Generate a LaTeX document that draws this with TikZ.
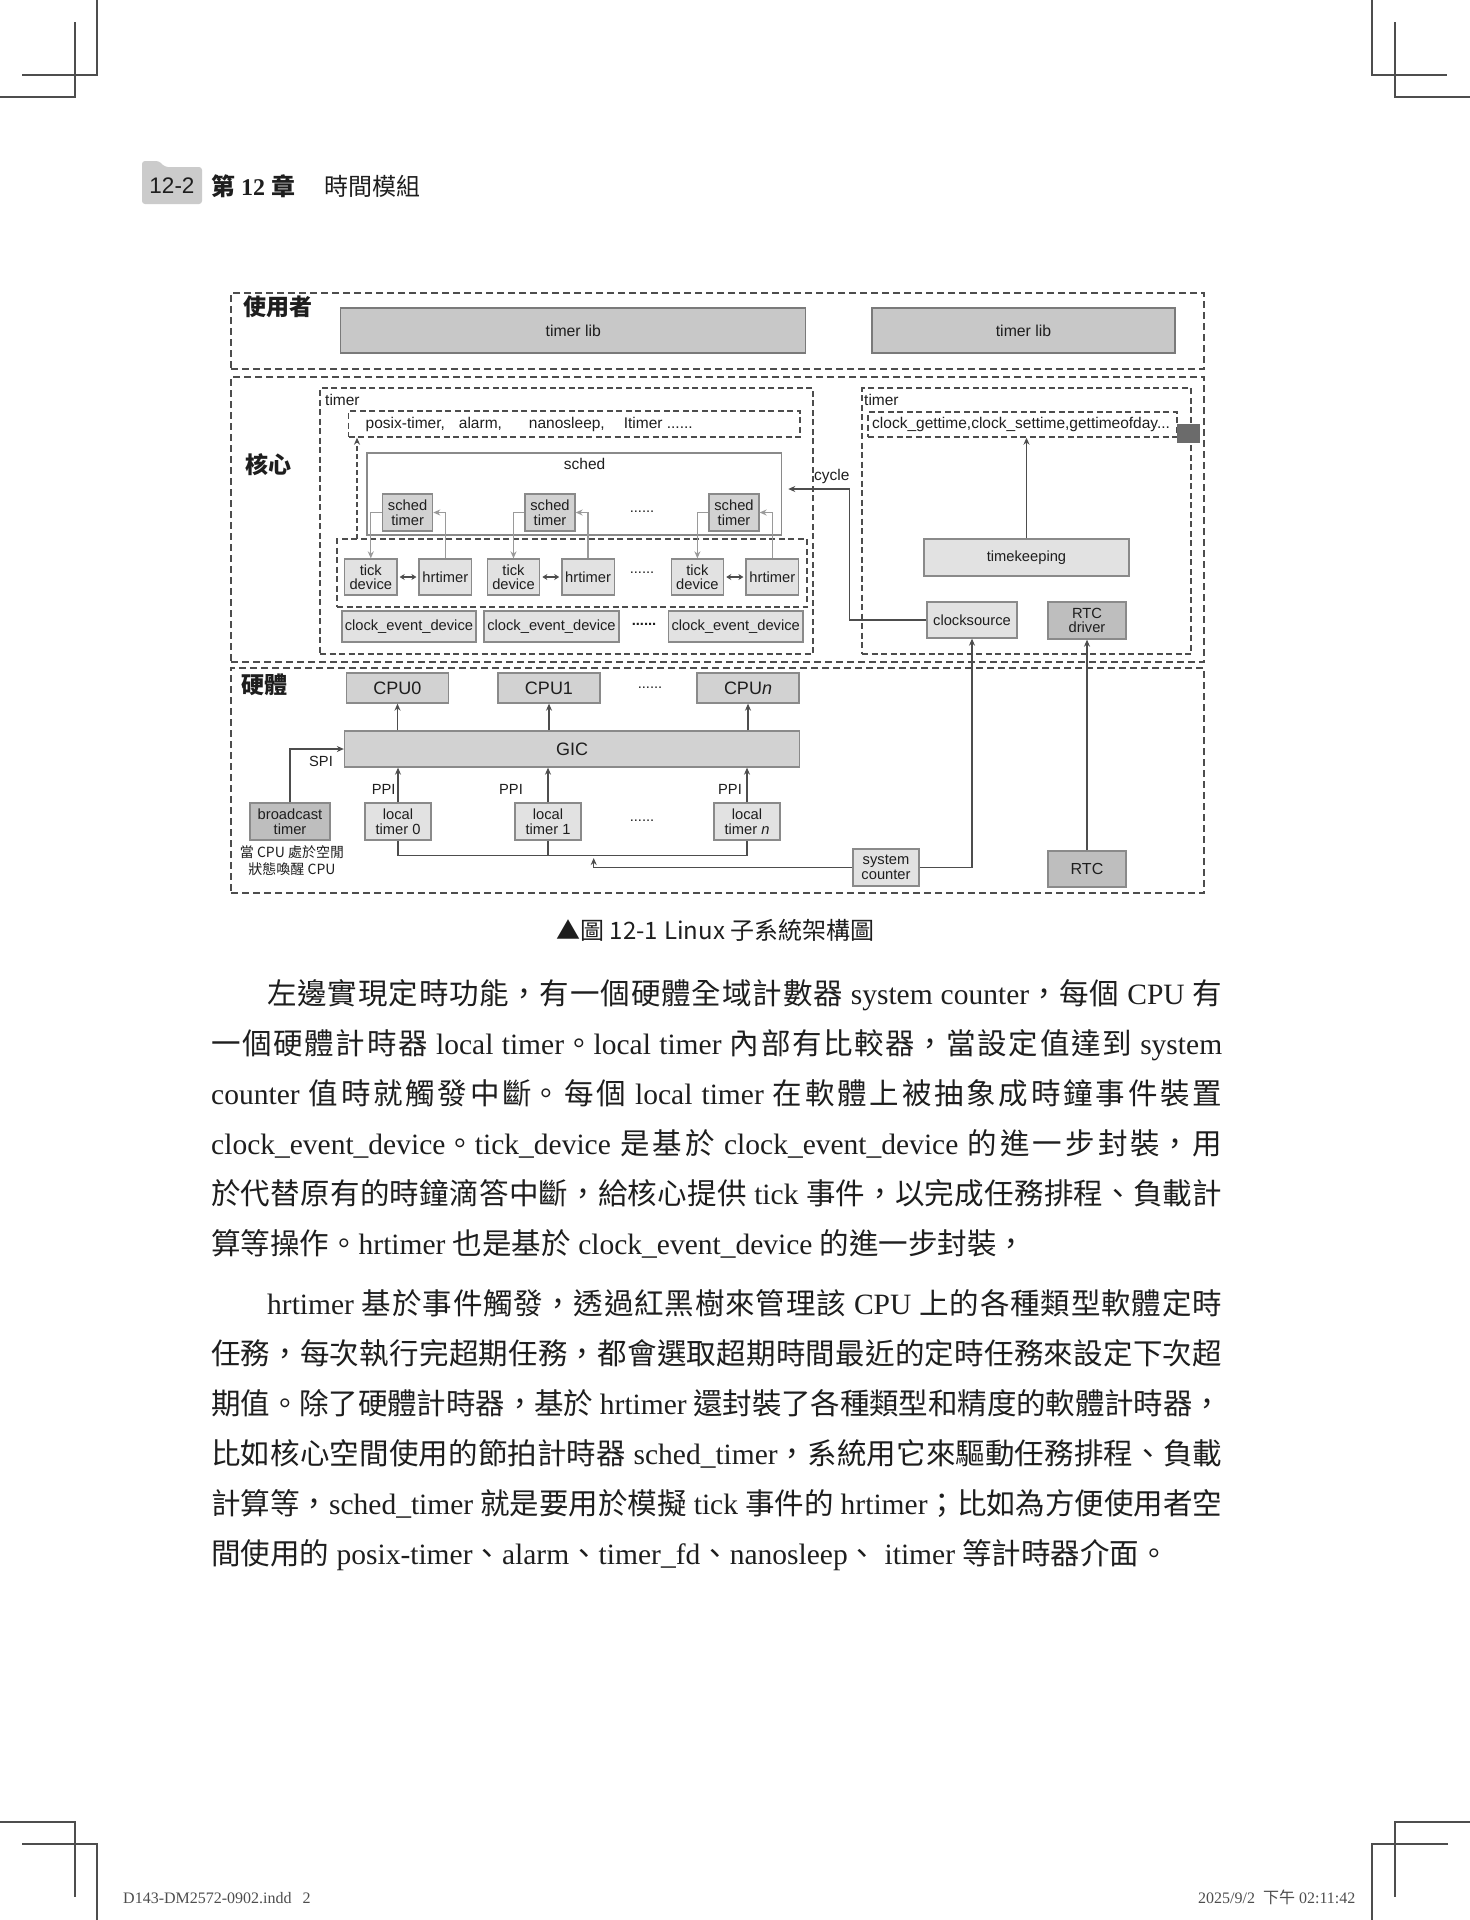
\documentclass[tikz,border=0pt]{standalone}
\usepackage{fontspec}
\usepackage{xcolor}
\usepackage{tikz}
\usetikzlibrary{arrows.meta}
\setmainfont{Liberation Serif}
\newfontfamily\cjk{Noto Sans CJK TC}
\newfontfamily\arial{Liberation Sans}
\XeTeXlinebreaklocale "zh"
\XeTeXlinebreakskip=0pt plus 6pt minus 0.4pt
\definecolor{TMLine}{HTML}{4D4D4D}
\definecolor{TMEdge}{HTML}{8A8A8A}
\definecolor{TMEdgeDark}{HTML}{7A7A7A}
\definecolor{TMLib}{HTML}{C8C8C8}
\definecolor{TMMid}{HTML}{D2D2D2}
\definecolor{TMSoft}{HTML}{E2E2E2}
\definecolor{TMDark}{HTML}{BEBEBE}
\definecolor{TMBlock}{HTML}{6B6B6B}
\definecolor{TMArrow}{HTML}{9A9A9A}
\definecolor{TMText}{HTML}{1E1E1E}
\definecolor{TMTab}{HTML}{CBCBCB}
\tikzset{
  layerbox/.style={draw=TMLine,line width=1.8pt,dash pattern=on 7pt off 4pt,inner sep=0pt},
  dashgrp/.style={draw=TMLine,line width=1.4pt,dash pattern=on 6pt off 3.5pt,inner sep=0pt},
  cell/.style={draw=TMEdge,line width=1.3pt,inner sep=0pt,align=center,text=TMText,font=\arial\fontsize{14.7}{14.5}\selectfont},
  txt/.style={inner sep=0pt,text=TMText,font=\arial\fontsize{14.7}{14.5}\selectfont},
  txtl/.style={inner sep=0pt,text=TMText,font=\arial\fontsize{15.5}{15.5}\selectfont},
  layername/.style={inner sep=0pt,text=TMText,font=\cjk\bfseries\fontsize{23}{23}\selectfont},
  wire/.style={draw=TMLine,line width=1.3pt},
  feed/.style={draw=TMLine,line width=1.3pt,-{Stealth[length=7pt,width=6pt]}},
  soft/.style={draw=TMArrow,line width=1.3pt,-{Stealth[length=7pt,width=6pt]}},
  pairarrow/.style={draw=TMLine,line width=1.6pt,{Stealth[length=5pt,width=6pt]}-{Stealth[length=5pt,width=6pt]},shorten <=2pt,shorten >=2pt},
  crop/.style={draw=TMLine,line width=1.2pt},
  bodyline/.style={anchor=base west,inner sep=0pt,text=TMText,font=\fontsize{29.5}{50}\selectfont},
  footline/.style={anchor=base west,inner sep=0pt,text=TMLine,font=\fontsize{16}{16}\selectfont}
}
\newcommand\fullline[2]{\parbox[t]{#1}{\parfillskip=0pt\relax\noindent #2}}
\begin{document}
\begin{tikzpicture}[x=1pt,y=-1pt]
\useasboundingbox (0,0) rectangle (1470,1920);
\fill[white] (0,0) rectangle (1470,1920);
\draw[crop] (97,0) -- (97,75) -- (22,75);
\draw[crop] (75,22) -- (75,97) -- (0,97);
\draw[crop] (1372,0) -- (1372,75) -- (1447,75);
\draw[crop] (1395,22) -- (1395,97) -- (1470,97);
\draw[crop] (0,1822) -- (75,1822) -- (75,1897);
\draw[crop] (22,1844) -- (97,1844) -- (97,1920);
\draw[crop] (1470,1822) -- (1395,1822) -- (1395,1897);
\draw[crop] (1448,1844) -- (1372,1844) -- (1372,1920);
\fill[TMTab,rounded corners=3pt] (142,204) -- (142,161) -- (159,161) -- (165,167) -- (202,167) -- (202,204) -- cycle;
\node[inner sep=0pt,text=TMText,font=\arial\fontsize{22.5}{22.5}\selectfont] (pagenum) at (172,186) {12-2};
\node[anchor=base west,inner sep=0pt,text=TMText,font=\fontsize{24}{24}\selectfont] (chapter) at (211,195) {{\cjk\bfseries 第} \textbf{12} {\cjk\bfseries 章}};
\node[anchor=base west,inner sep=0pt,text=TMText,font=\cjk\fontsize{24}{24}\selectfont] (chaptitle) at (324,195) {時間模組};
\node[layerbox,minimum width=973pt,minimum height=76pt] (userlayer) at (717.5,331) {};
\node[layerbox,minimum width=973pt,minimum height=285pt] (kernlayer) at (717.5,519.5) {};
\node[layerbox,minimum width=973pt,minimum height=225pt] (hwlayer) at (717.5,780.5) {};
\node[layername] (userlbl) at (278,307) {使用者};
\node[layername] (kernlbl) at (268,465) {核心};
\node[layername] (hwlbl) at (264,685) {硬體};
\node[cell,fill=TMLib,draw=TMEdgeDark,minimum width=465pt,minimum height=45pt,font=\arial\fontsize{15.8}{16}\selectfont] (lib1) at (573.3,330.5) {timer lib};
\node[cell,fill=TMLib,draw=TMEdgeDark,minimum width=303pt,minimum height=45pt,font=\arial\fontsize{15.8}{16}\selectfont] (lib2) at (1023.5,330.5) {timer lib};
\node[dashgrp,minimum width=493pt,minimum height=266pt] (ktimer) at (566.5,521) {};
\node[dashgrp,minimum width=329pt,minimum height=266pt] (ctimer) at (1026.5,521) {};
\node[txtl,anchor=west] (ktimerlbl) at (325,400) {timer};
\node[txtl,anchor=west] (ctimerlbl) at (864,400) {timer};
\node[dashgrp,minimum width=451.5pt,minimum height=26pt] (posix) at (574.25,424) {};
\node[txtl,anchor=west] (posixlbl) at (365.5,424) {posix-timer,\hspace{14pt}alarm,\hspace{27pt}nanosleep,\hspace{19pt}Itimer ......};
\node[dashgrp,minimum width=309pt,minimum height=25pt] (clockapi) at (1022.5,424.5) {};
\node[txtl,anchor=west] (clockapilbl) at (872,424.5) {clock\_gettime,clock\_settime,gettimeofday...};
\node[fill=TMBlock,inner sep=0pt,minimum width=23pt,minimum height=19pt] (corner) at (1188.5,433.5) {};
\node[draw=TMEdge,line width=1.5pt,inner sep=0pt,minimum width=414.5pt,minimum height=82pt] (sched) at (574.25,494) {};
\node[txtl] (schedlbl) at (584.6,464) {sched};
\node[dashgrp,minimum width=470pt,minimum height=68pt] (tickgrp) at (572,573) {};
\node[cell,fill=TMMid,minimum width=50pt,minimum height=37pt] (st1) at (407.6,512.5) {sched\\timer};
\node[cell,fill=TMMid,minimum width=50pt,minimum height=37pt] (st2) at (550,512.5) {sched\\timer};
\node[cell,fill=TMMid,minimum width=50pt,minimum height=37pt] (st3) at (734,512.5) {sched\\timer};
\node[txt] (stdots) at (642,512) {......};
\node[cell,fill=TMSoft,minimum width=52.4pt,minimum height=36pt] (td1) at (370.8,577) {tick\\device};
\node[cell,fill=TMSoft,minimum width=52.5pt,minimum height=36pt] (hr1) at (445.3,577) {hrtimer};
\node[cell,fill=TMSoft,minimum width=52.4pt,minimum height=36pt] (td2) at (513.5,577) {tick\\device};
\node[cell,fill=TMSoft,minimum width=52.5pt,minimum height=36pt] (hr2) at (588.1,577) {hrtimer};
\node[cell,fill=TMSoft,minimum width=52.4pt,minimum height=36pt] (td3) at (697.4,577) {tick\\device};
\node[cell,fill=TMSoft,minimum width=52.5pt,minimum height=36pt] (hr3) at (772.3,577) {hrtimer};
\node[txt] (tddots) at (642,573) {......};
\node[cell,fill=TMSoft,minimum width=134pt,minimum height=31pt] (ced1) at (408.9,626.5) {clock\_event\_device};
\node[cell,fill=TMSoft,minimum width=135pt,minimum height=31pt] (ced2) at (551.5,626.5) {clock\_event\_device};
\node[cell,fill=TMSoft,minimum width=134.6pt,minimum height=31pt] (ced3) at (735.7,626.5) {clock\_event\_device};
\node[txt,font=\arial\bfseries\fontsize{14.7}{14.5}\selectfont] (ceddots) at (644,624) {......};
\node[cell,fill=TMSoft,minimum width=205pt,minimum height=37pt] (tk) at (1026.5,557.5) {timekeeping};
\node[cell,fill=TMSoft,minimum width=90pt,minimum height=36pt] (cs) at (972,620) {clocksource};
\node[cell,fill=TMDark,minimum width=78pt,minimum height=37pt] (rtcd) at (1087,620.5) {RTC\\driver};
\node[txtl,anchor=west] (cyclelbl) at (814,476.5) {cycle};
\node[cell,fill=TMMid,minimum width=102pt,minimum height=30pt,font=\arial\fontsize{18}{18}\selectfont] (cpu0) at (397.5,688) {CPU0};
\node[cell,fill=TMMid,minimum width=102pt,minimum height=30pt,font=\arial\fontsize{18}{18}\selectfont] (cpu1) at (549,688) {CPU1};
\node[cell,fill=TMMid,minimum width=102pt,minimum height=30pt,font=\arial\fontsize{18}{18}\selectfont] (cpun) at (748,688) {CPU\textit{n}};
\node[txt] (cpudots) at (650,688) {......};
\node[cell,fill=TMMid,minimum width=455pt,minimum height=36pt,font=\arial\fontsize{18}{18}\selectfont] (gic) at (572,749) {GIC};
\node[cell,fill=TMSoft,minimum width=66pt,minimum height=37pt] (lt0) at (398,821.5) {local\\timer 0};
\node[cell,fill=TMSoft,minimum width=66pt,minimum height=37pt] (lt1) at (548,821.5) {local\\timer 1};
\node[cell,fill=TMSoft,minimum width=66pt,minimum height=37pt] (ltn) at (747,821.5) {local\\timer \textit{n}};
\node[txt] (ltdots) at (642,821) {......};
\node[cell,fill=TMDark,minimum width=80pt,minimum height=37pt] (bc) at (290,821.5) {broadcast\\timer};
\node[inner sep=0pt,align=center,text=TMText,font=\cjk\fontsize{14}{17}\selectfont] (bcnote) at (292,861) {當 CPU 處於空閒\\狀態喚醒 CPU};
\node[cell,fill=TMSoft,minimum width=66pt,minimum height=37pt] (sc) at (886,867.5) {system\\counter};
\node[cell,fill=TMDark,minimum width=78pt,minimum height=36pt,font=\arial\fontsize{16}{16}\selectfont] (rtc) at (1087,869) {RTC};
\node[txt] (ppi0) at (383.7,789) {PPI};
\node[txt] (ppi1) at (511,789) {PPI};
\node[txt] (ppin) at (730,789) {PPI};
\node[txt] (spi) at (321,761) {SPI};
\coordinate (busjoin) at (593.7,858);
\coordinate (cycturn) at (849.3,489);
\coordinate (upfeed) at (357,539);
\draw[soft] (st1.west) -| (td1.north);
\draw[soft] (hr1.north) |- (st1.east);
\draw[soft] (st2.west) -| (td2.north);
\draw[soft] (hr2.north) |- (st2.east);
\draw[soft] (st3.west) -| (td3.north);
\draw[soft] (hr3.north) |- (st3.east);
\draw[pairarrow] (td1.east) -- (hr1.west);
\draw[pairarrow] (td2.east) -- (hr2.west);
\draw[pairarrow] (td3.east) -- (hr3.west);
\draw[feed,dash pattern=on 5pt off 3pt] (upfeed) -- (upfeed |- posix.south);
\draw[feed] (tk.north) -- (tk.north |- clockapi.south);
\draw[feed,shorten >=6pt] (cs.west) -| (cycturn) -- (sched.east |- cycturn);
\draw[feed] (gic.north -| cpu0.south) -- (cpu0.south);
\draw[feed] (gic.north -| cpu1.south) -- (cpu1.south);
\draw[feed] (gic.north -| cpun.south) -- (cpun.south);
\draw[feed] (lt0.north) -- (lt0.north |- gic.south);
\draw[feed] (lt1.north) -- (lt1.north |- gic.south);
\draw[feed] (ltn.north) -- (ltn.north |- gic.south);
\draw[feed] (bc.north) |- (gic.west);
\draw[wire] (lt0.south) -- ++(0,15) -| (ltn.south);
\draw[wire] (lt1.south) -- ++(0,15);
\draw[feed] (sc.west) -| (busjoin);
\draw[feed] (sc.east) -| (cs.south);
\draw[feed] (rtc.north) -- (rtcd.south);
\node[inner sep=0pt,text=TMText,font=\cjk\fontsize{24}{24}\selectfont] (caption) at (715.5,930) {▲圖 12-1\hspace{6pt}Linux 子系統架構圖};
\node[bodyline] (p1a) at (267,1004) {\fullline{955pt}{{\cjk 左邊實現定時功能，有一個硬體全域計數器} system counter{\cjk ，每個} CPU {\cjk 有}}};
\node[bodyline] (p1b) at (211,1054) {\fullline{1011pt}{{\cjk 一個硬體計時器} local timer{\cjk 。}local timer {\cjk 內部有比較器，當設定值達到} system}};
\node[bodyline] (p1c) at (211,1104) {\fullline{1011pt}{counter {\cjk 值時就觸發中斷。每個} local timer {\cjk 在軟體上被抽象成時鐘事件裝置}}};
\node[bodyline] (p1d) at (211,1154) {\fullline{1011pt}{clock\_event\_device{\cjk 。}tick\_device {\cjk 是基於} clock\_event\_device {\cjk 的進一步封裝，用}}};
\node[bodyline] (p1e) at (211,1204) {\fullline{1011pt}{{\cjk 於代替原有的時鐘滴答中斷，給核心提供} tick {\cjk 事件，以完成任務排程、負載計}}};
\node[bodyline] (p1f) at (211,1254) {{\cjk 算等操作。}hrtimer {\cjk 也是基於} clock\_event\_device {\cjk 的進一步封裝，}};
\node[bodyline] (p2a) at (267,1314) {\fullline{955pt}{hrtimer {\cjk 基於事件觸發，透過紅黑樹來管理該} CPU {\cjk 上的各種類型軟體定時}}};
\node[bodyline] (p2b) at (211,1364) {\fullline{1011pt}{{\cjk 任務，每次執行完超期任務，都會選取超期時間最近的定時任務來設定下次超}}};
\node[bodyline] (p2c) at (211,1414) {\fullline{1011pt}{{\cjk 期值。除了硬體計時器，基於} hrtimer {\cjk 還封裝了各種類型和精度的軟體計時器，}}};
\node[bodyline] (p2d) at (211,1464) {\fullline{1011pt}{{\cjk 比如核心空間使用的節拍計時器} sched\_timer{\cjk ，系統用它來驅動任務排程、負載}}};
\node[bodyline] (p2e) at (211,1514) {\fullline{1011pt}{{\cjk 計算等，}sched\_timer {\cjk 就是要用於模擬} tick {\cjk 事件的} hrtimer{\cjk ；比如為方便使用者空}}};
\node[bodyline] (p2f) at (211,1564) {{\cjk 間使用的} posix-timer{\cjk 、}alarm{\cjk 、}timer\_fd{\cjk 、}nanosleep{\cjk 、} itimer {\cjk 等計時器介面。}};
\node[footline] (footfile) at (123,1903) {D143-DM2572-0902.indd\hspace{11pt}2};
\node[footline] (footdate) at (1198,1903) {2025/9/2\hspace{8pt}{\cjk 下午} 02:11:42};
\end{tikzpicture}
\end{document}
